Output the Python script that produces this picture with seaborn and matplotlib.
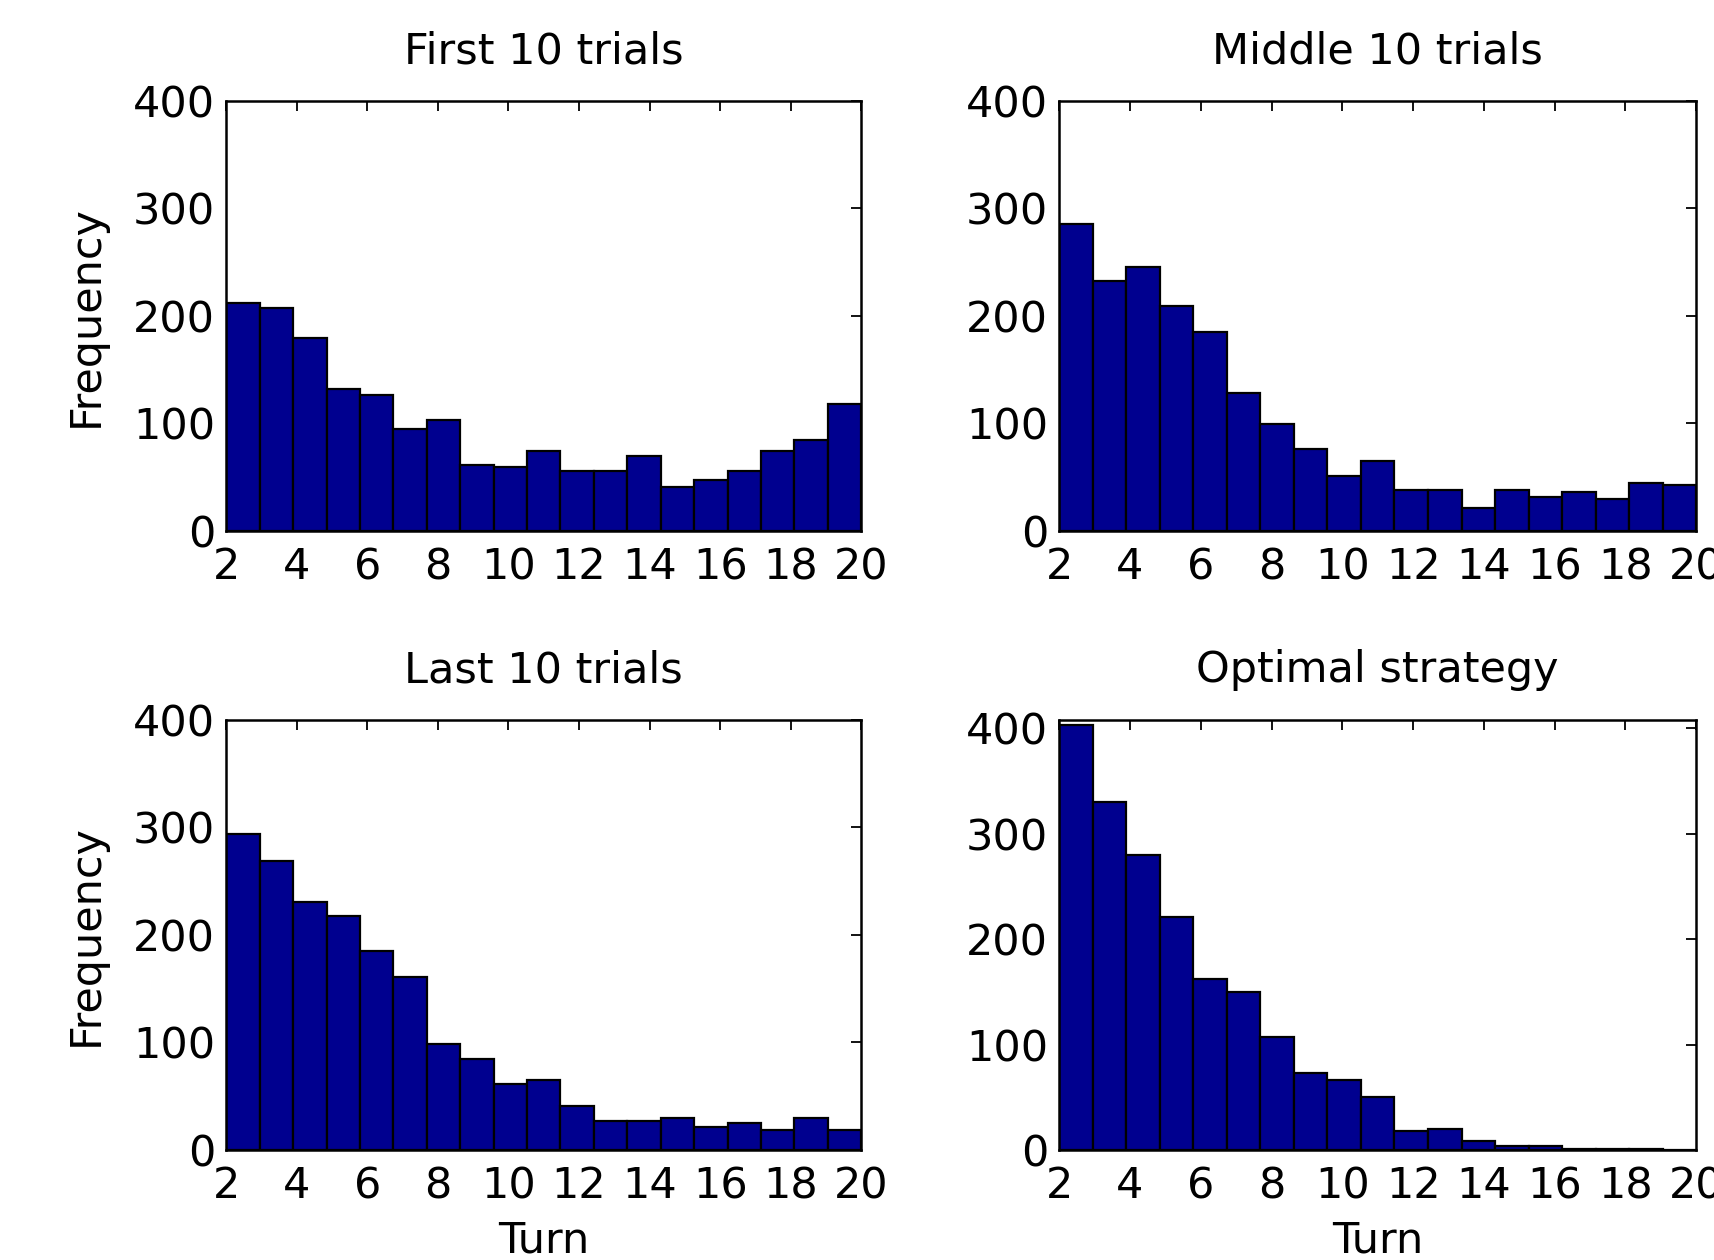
import numpy as np
import pandas as pd
import matplotlib
matplotlib.use("Agg")
import matplotlib.pyplot as plt
import seaborn as sns

# ---- data (bin counts) ----
turn_min, turn_max, n_bins = 2, 20, 19
first10 = [212, 207, 179, 132, 126, 95, 103, 61, 59, 74, 56, 56, 70, 41, 47, 56, 74, 85, 118]
middle10 = [285, 232, 245, 209, 185, 128, 99, 76, 51, 65, 38, 38, 21, 38, 32, 36, 30, 45, 43]
last10 = [294, 269, 231, 218, 185, 161, 99, 85, 61, 65, 41, 27, 27, 30, 21, 25, 19, 30, 19]
optimal = [403, 330, 280, 221, 162, 150, 107, 73, 66, 50, 18, 20, 9, 4, 4, 1, 1, 1, 0]
titles = ["First 10 trials", "Middle 10 trials", "Last 10 trials", "Optimal strategy"]
xticks = [2, 4, 6, 8, 10, 12, 14, 16, 18, 20]
yticks = [0, 100, 200, 300, 400]
ylims = [400, 400, 400, 408]
xlabel = "Turn"
ylabel = "Frequency"

edges = np.linspace(turn_min, turn_max, n_bins + 1)
centers = (edges[:-1] + edges[1:]) / 2

sns.set_style("white")
plt.rcParams["font.family"] = ["DejaVu Sans"]
plt.rcParams["text.color"] = "black"
plt.rcParams["axes.labelcolor"] = "black"
plt.rcParams["xtick.color"] = "black"
plt.rcParams["ytick.color"] = "black"

fig = plt.figure(figsize=(17.14, 12.6), dpi=100)
positions = [
    [0.132, 0.5786, 0.3705, 0.3416],
    [0.618, 0.5786, 0.3716, 0.3416],
    [0.132, 0.0873, 0.3705, 0.3413],
    [0.618, 0.0873, 0.3716, 0.3413],
]
series = [first10, middle10, last10, optimal]
fs = 31

for i, (pos, counts, title, ymax) in enumerate(zip(positions, series, titles, ylims)):
    ax = fig.add_axes(pos)
    df = pd.DataFrame({"turn": centers, "count": np.asarray(counts, dtype=float)})
    sns.histplot(data=df, x="turn", weights="count", bins=n_bins,
                 binrange=(turn_min, turn_max), ax=ax,
                 color="#00008F", edgecolor="black", linewidth=1.6,
                 alpha=1.0, stat="count")
    ax.set_xlim(turn_min, turn_max)
    ax.set_ylim(0, ymax)
    ax.set_xticks(xticks)
    ax.set_yticks(yticks)
    ax.set_xticklabels([str(t) for t in xticks], fontsize=fs, color="black")
    ax.set_yticklabels([str(t) for t in yticks], fontsize=fs, color="black")
    ax.tick_params(direction="in", length=7, width=1.3, top=True, right=True,
                   labeltop=False, labelright=False, color="black",
                   labelcolor="black")
    ax.tick_params(axis="x", pad=11)
    ax.tick_params(axis="y", pad=8)
    for sp in ax.spines.values():
        sp.set_visible(True)
        sp.set_linewidth(1.8)
        sp.set_color("black")
    ax.set_title(title, fontsize=fs, pad=27, color="black")
    if i % 2 == 0:
        ax.set_ylabel(ylabel, fontsize=fs, labelpad=19, color="black")
    else:
        ax.set_ylabel("")
    if i >= 2:
        ax.set_xlabel(xlabel, fontsize=fs, labelpad=9, color="black")
    else:
        ax.set_xlabel("")

fig.savefig("out.png", dpi=100)
